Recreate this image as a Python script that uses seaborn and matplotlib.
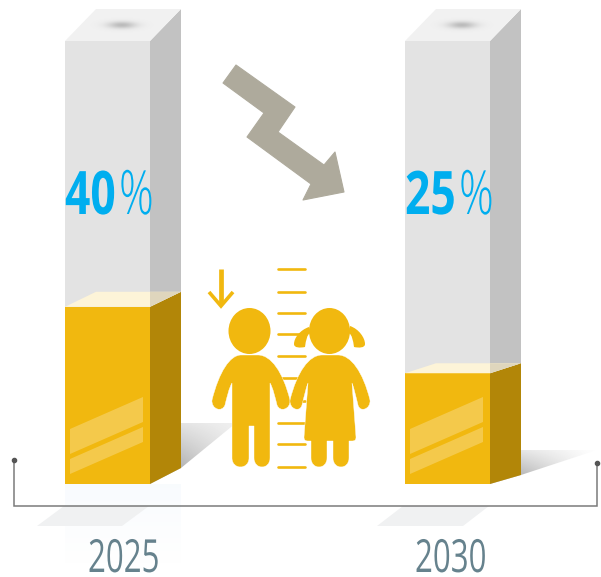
import numpy as np
import pandas as pd
import matplotlib
matplotlib.use("Agg")
import matplotlib.pyplot as plt
import seaborn as sns
from matplotlib.patches import Polygon, PathPatch, Ellipse
from matplotlib.path import Path
from matplotlib.patheffects import AbstractPathEffect
from matplotlib.transforms import Affine2D

years = ["2025", "2030"]
shares = [40, 25]
capacity = [100, 100]
share_labels = ["40", "25"]

YELLOW = "#f1b80f"
YELLOW_SIDE = "#b28608"
LID = "#fdf4d8"
LID_SIDE = "#dfd6bd"
GREY = "#e3e3e3"
GREY_SIDE = "#c2c2c2"
GREY_TOP = "#f1f1f1"
BLUE = "#00aeef"
SLATE = "#66828d"
ARROW = "#aeaa9c"
RULE = "#7a7a7a"
FACE = ["Open Sans", "DejaVu Sans"]

W, H = 601, 577
sns.set_theme(style="white")
plt.rcParams["font.family"] = FACE

fig = plt.figure(figsize=(W / 100, H / 100), dpi=100)
ax = fig.add_axes([0, 0, 1, 1])

frame = pd.DataFrame({"year": years, "share": shares, "capacity": capacity})
sns.barplot(data=frame, x="year", y="capacity", color=GREY, saturation=1,
            width=0.25, linewidth=0, ax=ax)
sns.barplot(data=frame, x="year", y="share", color=YELLOW, saturation=1,
            width=0.25, linewidth=0, ax=ax)

# 340 px between bars, 4.43 px per percentage point, floor at pixel row 484
ax.set_xlim(-107.5 / 340, (W - 107.5) / 340)
ax.set_ylim(-(H - 484) / 4.43, 484 / 4.43)
ax.axis("off")

# Decorations are placed in image pixels, y pointing down
px = Affine2D().scale(1, -1).translate(0, H)


class Tall(AbstractPathEffect):
    """Stretches glyph outlines upward from the baseline for a condensed look."""

    def __init__(self, factor):
        super().__init__()
        self.factor = factor

    def draw_path(self, renderer, gc, tpath, affine, rgbFace=None):
        renderer.draw_path(gc, tpath, Affine2D().scale(1, self.factor) + affine, rgbFace)


def label(x, y, s, stretch, **kw):
    ax.text(x, y, s, ha="left", va="baseline", transform=px, zorder=6,
            path_effects=[Tall(stretch)], **kw)


def poly(points, color, z=2, **kw):
    ax.add_patch(Polygon(points, closed=True, facecolor=color, edgecolor="none",
                         transform=px, zorder=z, **kw))


def curve(spec, color, z=3, **kw):
    """Filled outline from M/L/C/Z commands given as nested tuples."""
    verts, codes = [], []
    for cmd, *pts in spec:
        if cmd == "M":
            verts.append(pts[0]); codes.append(Path.MOVETO)
        elif cmd == "L":
            verts.append(pts[0]); codes.append(Path.LINETO)
        elif cmd == "C":
            verts.extend(pts); codes.extend([Path.CURVE4] * 3)
        else:
            verts.append(verts[0]); codes.append(Path.CLOSEPOLY)
    ax.add_patch(PathPatch(Path(verts, codes), facecolor=color, transform=px,
                           zorder=z, **kw))


def gradient(extent, values, clip=None, cmap_color=(0.45, 0.45, 0.45), z=0.5):
    rgba = np.zeros(values.shape + (4,))
    rgba[..., :3] = cmap_color
    rgba[..., 3] = values
    im = ax.imshow(rgba, extent=extent, origin="upper", aspect="auto",
                   interpolation="bilinear", transform=px, zorder=z)
    if clip is not None:
        im.set_clip_path(Polygon(clip, closed=True, transform=px))
    return im


def bar_pixel_x(index):
    return 65 + 340 * index


def level_pixel_y(value):
    return H - ax.transData.transform((0, value))[1]


# Floor shadows, fade-outs and cast shadows
nx, ny = 60, 40
u, v = np.meshgrid(np.linspace(0, 1, nx), np.linspace(0, 1, ny))
gradient((181, 236, 468, 423), 0.45 * (1 - 0.8 * u) * (0.25 + 0.75 * v) + 0.08,
         clip=[(181, 423), (236, 423), (181, 468)])
gradient((521, 597, 475, 450), 0.5 * (1 - u) * (0.35 + 0.65 * v),
         clip=[(521, 450), (597, 450), (521, 475)])
gradient((65, 181, 565, 484), 0.35 * (1 - v), cmap_color=(0.93, 0.96, 0.99))
poly([(37, 526), (122, 526), (149, 506), (64, 506)], "#f0f1f2", z=0.6)
poly([(377, 526), (463, 526), (489, 506), (403, 506)], "#f0f1f2", z=0.6)

# Third dimension of each column, with heights taken from the data
depth_x = 31
floor_rise = [16, 9]
lid_rise = [15, 10]
top_rise = 32
for i, (share, full) in enumerate(zip(shares, capacity)):
    x0 = bar_pixel_x(i)
    x1 = x0 + 85
    x2 = x1 + depth_x
    floor = level_pixel_y(0)
    level = level_pixel_y(share)
    top = level_pixel_y(full)
    # grey tube
    poly([(x1, floor), (x2, floor - floor_rise[i]), (x2, top - top_rise), (x1, top)], GREY_SIDE)
    poly([(x0, top), (x1, top), (x2, top - top_rise), (x0 + depth_x, top - top_rise)], GREY_TOP)
    # yellow fill
    poly([(x1, floor), (x2, floor - floor_rise[i]), (x2, level - lid_rise[i]), (x1, level)], YELLOW_SIDE)
    poly([(x0, level), (x1, level), (x2, level - lid_rise[i]), (x0 + depth_x, level - lid_rise[i])], LID)
    poly([(x1, level), (x2, level - lid_rise[i]), (x1, level - lid_rise[i])], LID_SIDE)
    # gloss stripes on the front face
    poly([(x0 + 5, 429), (x0 + 78, 397), (x0 + 78, 422), (x0 + 5, 454)], "white", z=2.5, alpha=0.25)
    poly([(x0 + 5, 459), (x0 + 78, 427), (x0 + 78, 442), (x0 + 5, 474)], "white", z=2.5, alpha=0.25)
    # dimple in the lid
    yy, xx = np.meshgrid(np.linspace(-1, 1, 40), np.linspace(-1, 1, 80), indexing="ij")
    gradient((x0 + 25, x0 + 89, 33, 17), 0.62 * np.exp(-(xx ** 2 / 0.2 + yy ** 2 / 0.2)),
             cmap_color=(0.6, 0.6, 0.6), z=2.2)

# Bracket carrying the time axis
ax.plot([14.3, 14.3, 597, 597], [460, 506, 506, 463], color=RULE, lw=1.1, transform=px,
        solid_joinstyle="miter", zorder=3)
ax.plot([14.3, 597], [460, 463], ls="none", marker="o", ms=3, color="#555555", transform=px, zorder=3)

# Falling zig-zag arrow
ax.add_patch(Polygon([(236, 65), (295, 107), (278, 132), (324, 165), (335, 152), (344, 192),
                      (303, 200), (311, 184), (247, 137), (264, 113), (223, 83)],
                     closed=True, facecolor=ARROW, edgecolor=ARROW, lw=0.8,
                     joinstyle="round", transform=px, zorder=3))

# Height ruler behind the children
for tick_y in [269, 292, 313, 334, 356, 378, 401, 423, 444, 467]:
    ax.plot([278, 305], [tick_y, tick_y], color=YELLOW, lw=1.9, solid_capstyle="round",
            transform=px, zorder=2.8)

# Small downward arrow
ax.plot([221, 221], [269, 304], color=YELLOW, lw=3.4, solid_capstyle="butt", transform=px, zorder=3)
ax.plot([209, 221, 233], [292, 306, 292], color=YELLOW, lw=2.6, solid_joinstyle="miter",
        solid_capstyle="butt", transform=px, zorder=3)

# Boy
boy = [("M", (241, 355)), ("L", (258, 355)), ("C", (271, 355), (283, 372), (290, 400)),
       ("C", (291, 409), (280, 413), (277, 405)), ("C", (275, 397), (273, 388), (270, 383)),
       ("L", (270, 458)), ("C", (270, 470), (254, 470), (254, 458)), ("L", (254, 426)),
       ("L", (249, 426)), ("L", (249, 458)), ("C", (249, 470), (232, 470), (232, 458)),
       ("L", (232, 383)), ("C", (229, 388), (227, 397), (225, 405)),
       ("C", (222, 413), (211, 409), (212, 400)), ("C", (219, 372), (230, 355), (241, 355)), ("Z",)]
curve(boy, YELLOW, edgecolor="white", lw=0.3)
ax.add_patch(Ellipse((249.5, 331), 42, 46, facecolor=YELLOW, edgecolor="none", transform=px, zorder=3))

# Girl
girl = [("M", (322, 355)), ("L", (338, 355)), ("C", (351, 355), (363, 372), (370, 400)),
        ("C", (371, 409), (360, 413), (358, 405)), ("C", (356, 397), (354, 388), (352, 383)),
        ("L", (356, 437)), ("C", (356, 440), (355, 441), (352, 441)), ("L", (349, 441)),
        ("L", (349, 458)), ("C", (349, 470), (333, 470), (333, 458)), ("L", (333, 441)),
        ("L", (327, 441)), ("L", (327, 458)), ("C", (327, 470), (311, 470), (311, 458)),
        ("L", (311, 441)), ("L", (308, 441)), ("C", (305, 441), (304, 440), (304, 437)),
        ("L", (308, 383)), ("C", (306, 388), (304, 397), (302, 405)),
        ("C", (300, 413), (289, 409), (290, 400)), ("C", (297, 372), (309, 355), (322, 355)), ("Z",)]
curve(girl, YELLOW, edgecolor="white", lw=0.3)
ax.add_patch(Ellipse((329.5, 331), 41, 46, facecolor=YELLOW, edgecolor="none", transform=px, zorder=3))
pigtail_left = [("M", (309, 327)), ("C", (300, 330), (294, 338), (294, 344)),
                ("C", (294, 348), (300, 348), (305, 347)), ("C", (306, 340), (307, 335), (310, 333)), ("Z",)]
pigtail_right = [("M", (350, 326)), ("C", (359, 329), (365, 338), (365, 344)),
                 ("C", (365, 348), (359, 348), (354, 347)), ("C", (353, 340), (352, 335), (349, 333)), ("Z",)]
curve(pigtail_left, YELLOW, edgecolor="none")
curve(pigtail_right, YELLOW, edgecolor="none")

# Percentages and years
for i, text in enumerate(share_labels):
    x0 = bar_pixel_x(i)
    label(x0, 214, text, 1.35, color=BLUE, fontsize=32, fontweight="bold")
    label(x0 + 54, 214, "%", 1.42, color=BLUE, fontsize=31, fontweight="light")
for text, left in zip(years, [88, 415]):
    label(left, 572, text, 1.46, color=SLATE, fontsize=22.5)

ax.set_xlim(-107.5 / 340, (W - 107.5) / 340)
ax.set_ylim(-(H - 484) / 4.43, 484 / 4.43)
fig.savefig("out.png", dpi=100, facecolor="white")
